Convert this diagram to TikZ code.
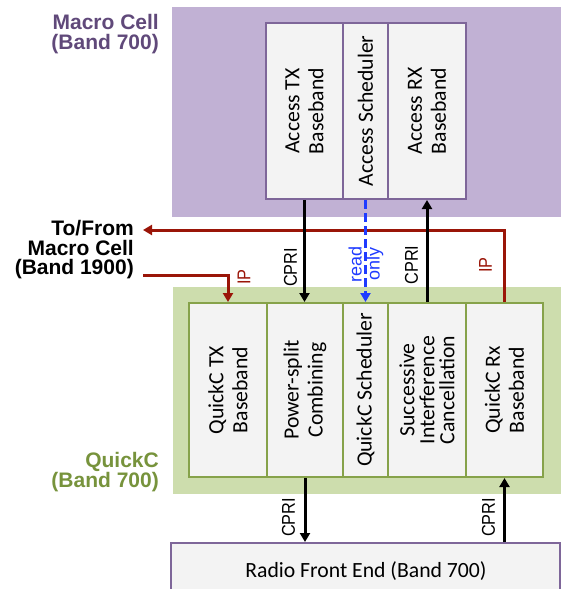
\documentclass[tikz,border=0pt]{standalone}
\usepackage{fontspec}
\setmainfont{Carlito}
\newfontfamily\arialf{Liberation Sans}
\usetikzlibrary{arrows.meta}
\definecolor{purplebg}{HTML}{C1B1D4}
\definecolor{purpleline}{HTML}{7E6699}
\definecolor{purpletext}{HTML}{60497A}
\definecolor{greenbg}{HTML}{CDDDAD}
\definecolor{greenline}{HTML}{86A24A}
\definecolor{greentext}{HTML}{77933C}
\definecolor{boxfill}{HTML}{F3F3F3}
\definecolor{ipred}{HTML}{9A1508}
\definecolor{roblue}{HTML}{1F3BFF}
\begin{document}
\begin{tikzpicture}[x=1pt,y=-1pt,
  abox/.style={draw=purpleline, fill=boxfill, line width=2pt, inner sep=0pt},
  qbox/.style={draw=greenline, fill=boxfill, line width=2pt, inner sep=0pt},
  rot/.style={rotate=90, align=center, inner sep=0pt, font=\fontsize{21.7}{24}\selectfont},
  rotthree/.style={rotate=90, align=center, inner sep=0pt, font=\fontsize{21.7}{20}\selectfont},
  lbl/.style={rotate=90, xscale=0.88, align=center, inner sep=0pt, font=\arialf\fontsize{18.5}{18}\selectfont},
  rolbl/.style={rotate=90, align=center, inner sep=0pt, font=\arialf\fontsize{18}{18}\selectfont},
  title/.style={anchor=east, align=right, inner sep=0pt, font=\arialf\bfseries\fontsize{21}{19.5}\selectfont},
  cpri/.style={line width=3pt, -{Triangle[length=9pt,width=10pt]}},
  ipline/.style={draw=ipred, line width=3pt, -{Triangle[length=9pt,width=10pt]}},
  roline/.style={draw=roblue, line width=3pt, dash pattern=on 9pt off 4pt, -{Triangle[length=9pt,width=10pt]}}
]
\useasboundingbox (0,0) rectangle (561,589);
\clip (0,0) rectangle (561,589);
% backgrounds
\fill[purplebg] (172,7) rectangle (561,217);
\fill[greenbg] (173,287) rectangle (561,494);
% macro cell boxes
\node[abox, minimum width=77, minimum height=176] (atx) at (304.5,111) {};
\node[abox, minimum width=45, minimum height=176] (asch) at (365.5,111) {};
\node[abox, minimum width=78, minimum height=176] (arx) at (427,111) {};
\node[rot] (atxt) at (atx) {Access TX\\Baseband};
\node[rot] (ascht) at (asch) {Access Scheduler};
\node[rot] (arxt) at (arx) {Access RX\\Baseband};
% quickc boxes
\node[qbox, minimum width=78, minimum height=174] (qtx) at (228,390) {};
\node[qbox, minimum width=76, minimum height=174] (pwr) at (305,390) {};
\node[qbox, minimum width=45, minimum height=174] (qsch) at (365.5,390) {};
\node[qbox, minimum width=78, minimum height=174] (sic) at (427,390) {};
\node[qbox, minimum width=77, minimum height=174] (qrx) at (504.5,390) {};
\node[rot] (qtxt) at (qtx) {QuickC TX\\Baseband};
\node[rot] (pwrt) at (pwr) {Power-split\\Combining};
\node[rot] (qscht) at (qsch) {QuickC Scheduler};
\node[rotthree] (sict) at (sic) {Successive\\Interference\\Cancellation};
\node[rot] (qrxt) at (qrx) {QuickC Rx\\Baseband};
% radio front end
\node[abox, minimum width=389, minimum height=70] (rfe) at (365.5,578) {};
\node[inner sep=0pt, font=\fontsize{21.7}{24}\selectfont] (rfet) at (366,571) {Radio Front End (Band 700)};
% titles
\node[title, text=purpletext] (mc) at (159,34) {Macro Cell\\(Band 700)};
\node[title, text=black] (tf) at (134,250) {To/From\\Macro Cell\\(Band 1900)};
\node[title, text=greentext] (qc) at (159,472) {QuickC\\(Band 700)};
\coordinate (tfin) at (143,230);
\coordinate (tfout) at (143,275);
% IP lines
\draw[ipline] (qrx.north) |- (tfin);
\draw[ipline] (tfout) -| (qtx.north);
% CPRI and read-only
\draw[cpri] (atx.south) -- (atx.south |- pwr.north);
\draw[roline] (asch.south) -- (qsch.north);
\draw[cpri] (sic.north) -- (arx.south);
\draw[cpri] (pwr.south) -- (pwr.south |- rfe.north);
\draw[cpri] (qrx.south |- rfe.north) -- (qrx.south);
% labels
\node[lbl] (l1) at (290.5,267.5) {CPRI};
\node[rolbl, text=roblue] (l2) at (366,264) {read\\only};
\node[lbl] (l3) at (411.5,265) {CPRI};
\node[lbl, text=ipred] (l4) at (485.5,265) {IP};
\node[lbl, text=ipred] (l5) at (244,277) {IP};
\node[lbl] (l6) at (288.5,517.5) {CPRI};
\node[lbl] (l7) at (488.5,517.5) {CPRI};
\end{tikzpicture}
\end{document}
